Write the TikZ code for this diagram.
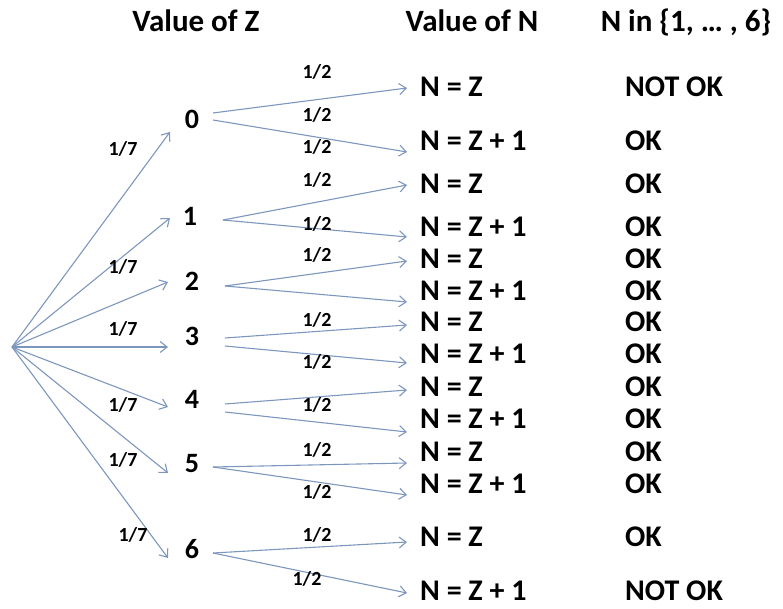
\documentclass[tikz,border=0pt]{standalone}
\usepackage{fontspec}
\setmainfont{Carlito}
\usetikzlibrary{arrows.meta}
\definecolor{edgeblue}{RGB}{125,150,190}
\begin{document}
\begin{tikzpicture}[x=1pt,y=-1pt,
  every node/.style={inner sep=0pt, text depth=0pt},
  head/.style={font=\fontsize{31}{31}\selectfont\bfseries, text height=0.64em},
  zval/.style={font=\fontsize{28}{28}\selectfont\bfseries, text height=0.63em},
  nval/.style={font=\fontsize{30}{30}\selectfont\bfseries, text height=0.64em, anchor=west},
  prob/.style={font=\fontsize{20}{20}\selectfont\bfseries, text height=0.63em},
  branch/.style={draw=edgeblue, line width=1.1pt, -{Straight Barb[length=7pt,width=11pt]}}
]
\useasboundingbox (0,0) rectangle (783,609);

% column headings
\node[head] (hz) at (196,28) {Value of Z};
\node[head] (hn) at (472,28) {Value of N};
\node[head] (hs) at (686,28) {N in \{1, … , 6\}};

% root of the tree
\coordinate (root) at (12,347);

% values of Z
\foreach \k/\x/\y in {0/192/125,1/190/222,2/192/287,3/192/342,4/192/405,5/192/469,6/192/555}
  \node[zval] (z\k) at (\x,\y) {\k};

% arrow ends in front of the Z values
\foreach \k/\x/\y in {0/170/132,1/170/218,2/168/282,3/168/347,4/168/407,5/168/473,6/168/558}
  \coordinate (a\k) at (\x,\y);

% values of N and the range check
\foreach \i/\y/\t/\c in {1/93/{N = Z}/{NOT OK},2/147/{N = Z + 1}/OK,3/190/{N = Z}/OK,
    4/233/{N = Z + 1}/OK,5/265/{N = Z}/OK,6/297/{N = Z + 1}/OK,7/328/{N = Z}/OK,
    8/360/{N = Z + 1}/OK,9/393/{N = Z}/OK,10/425/{N = Z + 1}/OK,11/458/{N = Z}/OK,
    12/490/{N = Z + 1}/OK,13/543/{N = Z}/OK,14/597/{N = Z + 1}/{NOT OK}}{
  \node[nval] (n\i) at (420,\y) {\t};
  \node[nval] (ok\i) at (625,\y) {\c};
}

% arrow ends in front of the N values
\foreach \i/\y in {1/88,2/152,3/185,4/237,5/261,6/302,7/325,8/363,9/390,10/432,11/463,12/495,13/542,14/593}
  \coordinate (b\i) at (407,\y);

% start points of the second-level branches
\foreach \k/\x/\ya/\yb in {0/213/113/120,1/223/220/220,2/225/286/286,3/225/338/346,4/225/404/412,5/213/467/467,6/213/553/553}{
  \coordinate (s\k u) at (\x,\ya);
  \coordinate (s\k d) at (\x,\yb);
}

% first level: root to each Z value
\foreach \k in {0,...,6}
  \draw[branch] (root) -- (a\k);

% second level: each Z value to N = Z and N = Z + 1
\foreach \k [evaluate=\k as \iu using int(2*\k+1), evaluate=\k as \id using int(2*\k+2)] in {0,...,6}{
  \draw[branch] (s\k u) -- (b\iu);
  \draw[branch] (s\k d) -- (b\id);
}

% probabilities of the first level
\foreach \x/\y [count=\j] in {123/152,123/270,123/332,123/408,123/463,133/538}
  \node[prob] (p7\j) at (\x,\y) {1/7};

% probabilities of the second level
\foreach \x/\y [count=\j] in {317/75,317/118,317/150,317/183,317/227,317/258,317/323,317/365,317/408,317/453,317/495,317/538,307/582}
  \node[prob] (p2\j) at (\x,\y) {1/2};
\end{tikzpicture}
\end{document}
